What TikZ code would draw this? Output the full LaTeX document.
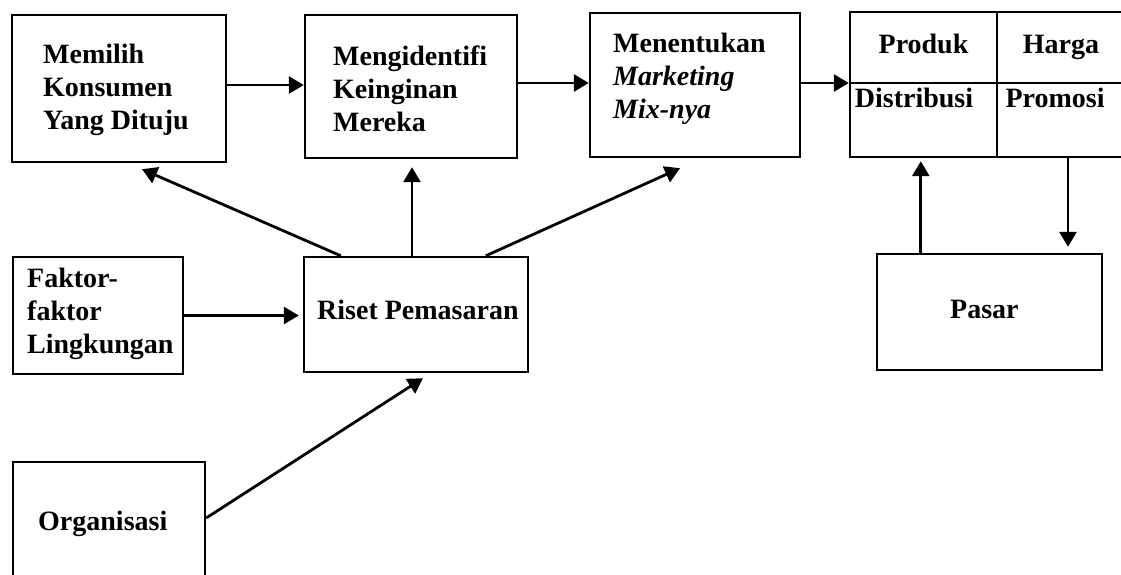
\documentclass[tikz,border=0pt]{standalone}
\usepackage{fontspec}
\setmainfont{Liberation Serif}
\usetikzlibrary{arrows.meta,calc}
\begin{document}
\begin{tikzpicture}[x=1pt,y=-1pt,
  box/.style={draw,line width=2.4pt,inner sep=0pt,rectangle},
  txt/.style={inner sep=0pt,align=left,font=\fontsize{28}{33}\selectfont\bfseries},
  arr/.style={line width=2.8pt,-{Triangle[length=15pt,width=17pt]}}]
\useasboundingbox (0,0) rectangle (1121,575);
\clip (0,0) rectangle (1121,575);
% boxes
\node[box,minimum width=214pt,minimum height=147pt] (b1) at (119,88.5) {};
\node[box,minimum width=212pt,minimum height=143pt] (b2) at (411,86.5) {};
\node[box,minimum width=210pt,minimum height=144pt] (b3) at (695,85) {};
\node[box,minimum width=147pt,minimum height=71pt] (c11) at (923.5,47.5) {};
\node[box,minimum width=128pt,minimum height=71pt] (c12) at (1061,47.5) {};
\node[box,minimum width=147pt,minimum height=74pt] (c21) at (923.5,120) {};
\node[box,minimum width=128pt,minimum height=74pt] (c22) at (1061,120) {};
\node[box,minimum width=170pt,minimum height=117pt] (fk) at (98,315.5) {};
\node[box,minimum width=224pt,minimum height=115pt] (rs) at (416,314.5) {};
\node[box,minimum width=192pt,minimum height=138pt] (org) at (109,531) {};
\node[box,minimum width=225pt,minimum height=116pt] (ps) at (989.5,312) {};
% texts
\node[txt,anchor=north west] (t1) at (43,44) {Memilih\\Konsumen\\Yang Dituju};
\node[txt,anchor=north west] (t2) at (333,46) {Mengidentifi\\Keinginan\\Mereka};
\node[txt,anchor=north west] (t3) at (613,33) {Menentukan\\\textit{Marketing}\\\textit{Mix-nya}};
\node[txt,anchor=north west] (t4) at (27,268) {Faktor-\\faktor\\Lingkungan};
\node[txt,anchor=base west] (t5) at (317,319) {Riset Pemasaran};
\node[txt,anchor=base west] (t6) at (38,530) {Organisasi};
\node[txt,anchor=base west] (t7) at (950,318) {Pasar};
\node[txt,anchor=base] (t8) at (923.5,54) {Produk};
\node[txt,anchor=base] (t9) at (1061,54) {Harga};
\node[txt,anchor=base] (t10) at (914,108) {Distribusi};
\node[txt,anchor=base] (t11) at (1055,108) {Promosi};
% connectors
\draw[arr] (b1.east) ++(0,-3.5) coordinate (s12) -- (s12 -| b2.west);
\draw[arr] (b2.east) ++(0,-3.5) coordinate (s23) -- (s23 -| b3.west);
\draw[arr] (b3.east) ++(0,-2) coordinate (s34) -- (s34 -| c11.west);
\draw[arr] ($(rs.north west)+(38,0)$) -- ($(b1.south)+(23,6)$);
\draw[arr,shorten >=8pt] (rs.north) ++(-4,0) coordinate (s2) -- (s2 |- b2.south);
\draw[arr] ($(rs.north west)+(183,0)$) -- ($(b3.south)+(-15,10)$);
\draw[arr,shorten >=4pt] (fk.east) -- (fk.east -| rs.west);
\draw[arr] ($(org.east)+(0,-13)$) -- ($(rs.south)+(7,5)$);
\draw[arr,shorten >=3pt] (ps.north west) ++(45,0) coordinate (sp) -- (sp |- c21.south);
\draw[arr,shorten >=6pt] (c22.south) ++(7,0) coordinate (sq) -- (sq |- ps.north);
\end{tikzpicture}
\end{document}
